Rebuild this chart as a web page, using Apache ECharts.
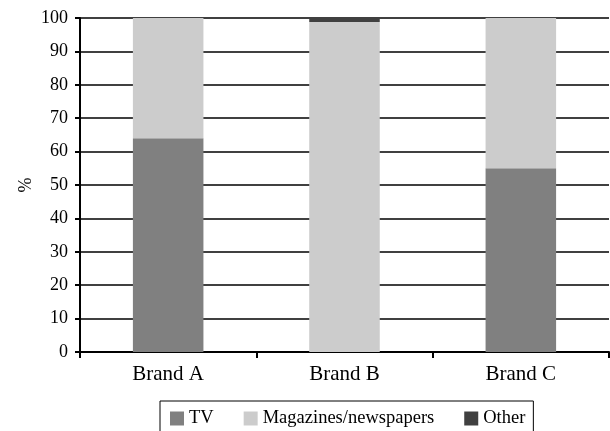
<!DOCTYPE html>
<html>
<head>
<meta charset="utf-8">
<script src="https://cdn.jsdelivr.net/npm/echarts@6/dist/echarts.min.js"></script>
<style>
  html, body { margin: 0; padding: 0; background: #fff; }
  #chart { width: 610px; height: 431px; }
</style>
</head>
<body>
<div id="chart"></div>
<script>
// Share of advertising spend by media type, per brand (%)
const brands = ['Brand A', 'Brand B', 'Brand C'];
const tvShare = [64, 0, 55];
const pressShare = [36, 98.8, 45];
const otherShare = [0, 1.2, 0];
const yTicks = [0, 10, 20, 30, 40, 50, 60, 70, 80, 90, 100];

const serif = '"Liberation Serif", "DejaVu Serif", serif';

const chart = echarts.init(document.getElementById('chart'), null, { renderer: 'canvas' });

function barSeries(name, data, color) {
  return {
    name: name,
    type: 'bar',
    stack: 'media',
    data: data,
    barWidth: '40%',
    itemStyle: { color: color },
    emphasis: { disabled: true }
  };
}

chart.setOption({
  animation: false,
  grid: { left: 80, right: 1, top: 18, bottom: 79, containLabel: false },
  legend: {
    left: 160,
    top: 401,
    padding: [8, 8, 20, 10],
    borderColor: '#000',
    borderWidth: 1,
    itemWidth: 14,
    itemHeight: 14,
    itemGap: 30,
    icon: 'rect',
    textStyle: { fontFamily: serif, fontSize: 18.5, color: '#000' },
    data: ['TV', 'Magazines/newspapers', 'Other']
  },
  xAxis: {
    type: 'category',
    data: brands,
    axisLine: { lineStyle: { color: '#000', width: 2 } },
    axisTick: { show: true, length: 6, lineStyle: { color: '#000', width: 2 } },
    axisLabel: { fontFamily: serif, fontSize: 21, color: '#000', margin: 12 }
  },
  yAxis: {
    type: 'value',
    min: yTicks[0],
    max: yTicks[yTicks.length - 1],
    interval: 10,
    name: '%',
    nameLocation: 'middle',
    nameGap: 45,
    nameMoveOverlap: false,
    nameRotate: 90,
    nameTextStyle: { fontFamily: serif, fontSize: 18, color: '#000' },
    axisLine: { show: true, lineStyle: { color: '#000', width: 2 } },
    axisTick: { show: true, length: 5, lineStyle: { color: '#000', width: 2 } },
    axisLabel: { fontFamily: serif, fontSize: 18, color: '#000', margin: 12 },
    splitLine: { show: true, lineStyle: { color: '#000', width: 1.5 } }
  },
  series: [
    barSeries('TV', tvShare, '#808080'),
    barSeries('Magazines/newspapers', pressShare, '#cccccc'),
    barSeries('Other', otherShare, '#404040')
  ]
});
</script>
</body>
</html>
